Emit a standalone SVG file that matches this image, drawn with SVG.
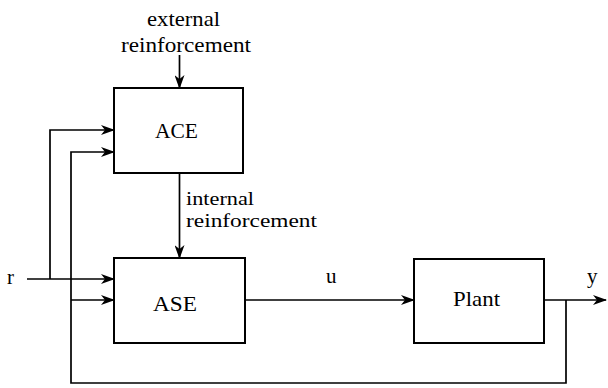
<svg xmlns="http://www.w3.org/2000/svg" width="608" height="388" viewBox="0 0 608 388">
  <defs>
    <marker id="arr" viewBox="0 0 14 10" refX="13" refY="5" markerWidth="14" markerHeight="10" markerUnits="userSpaceOnUse" orient="auto">
      <path d="M0,0 L14,5 L0,10 L4,5 Z" fill="#000"/>
    </marker>
  </defs>
  <style>
    .box { fill: #fff; stroke: #000; stroke-width: 2; }
    .wire { fill: none; stroke: #000; stroke-width: 1.7; }
    .lbl { font-family: "Liberation Serif", "Times New Roman", serif; font-size: 21px; fill: #000; }
    .sm { font-family: "Liberation Serif", "Times New Roman", serif; font-size: 19px; fill: #000; }
    .big { font-family: "Liberation Serif", "Times New Roman", serif; font-size: 21px; fill: #000; }
  </style>
  <rect width="608" height="388" fill="#fff"/>

  <g id="connectors">
    <!-- external reinforcement into ACE -->
    <line class="wire" x1="179.5" y1="55" x2="179.5" y2="88" marker-end="url(#arr)"/>
    <!-- internal reinforcement ACE -> ASE -->
    <line class="wire" x1="179.5" y1="173" x2="179.5" y2="258" marker-end="url(#arr)"/>
    <!-- r input -->
    <line class="wire" x1="27" y1="279" x2="114" y2="279" marker-end="url(#arr)"/>
    <polyline class="wire" points="50,279 50,130 114,130" marker-end="url(#arr)"/>
    <!-- y feedback -->
    <polyline class="wire" points="566,300 566,383 71,383 71,152 114,152" marker-end="url(#arr)"/>
    <line class="wire" x1="71" y1="300" x2="114" y2="300" marker-end="url(#arr)"/>
    <!-- u: ASE -> Plant -->
    <line class="wire" x1="245" y1="300" x2="414" y2="300" marker-end="url(#arr)"/>
    <!-- y output -->
    <line class="wire" x1="544" y1="300" x2="606" y2="300" marker-end="url(#arr)"/>
  </g>

  <g id="ace">
    <rect class="box" x="114" y="88" width="129" height="85"/>
    <text class="big" x="155" y="138" textLength="43" lengthAdjust="spacingAndGlyphs">ACE</text>
  </g>
  <g id="ase">
    <rect class="box" x="114" y="258" width="131" height="85"/>
    <text class="big" x="153" y="311" textLength="44" lengthAdjust="spacingAndGlyphs">ASE</text>
  </g>
  <g id="plant">
    <rect class="box" x="414" y="259" width="130" height="84"/>
    <text class="big" x="453" y="306" textLength="47" lengthAdjust="spacingAndGlyphs">Plant</text>
  </g>

  <g id="labels">
    <text class="lbl" x="147" y="26" textLength="73" lengthAdjust="spacingAndGlyphs">external</text>
    <text class="lbl" x="121" y="52" textLength="130" lengthAdjust="spacingAndGlyphs">reinforcement</text>
    <text class="sm" x="186" y="205" textLength="68" lengthAdjust="spacingAndGlyphs">internal</text>
    <text class="sm" x="186" y="227" textLength="131" lengthAdjust="spacingAndGlyphs">reinforcement</text>
    <text class="lbl" x="7" y="284">r</text>
    <text class="lbl" x="326" y="283">u</text>
    <text class="lbl" x="587" y="283">y</text>
  </g>
</svg>
